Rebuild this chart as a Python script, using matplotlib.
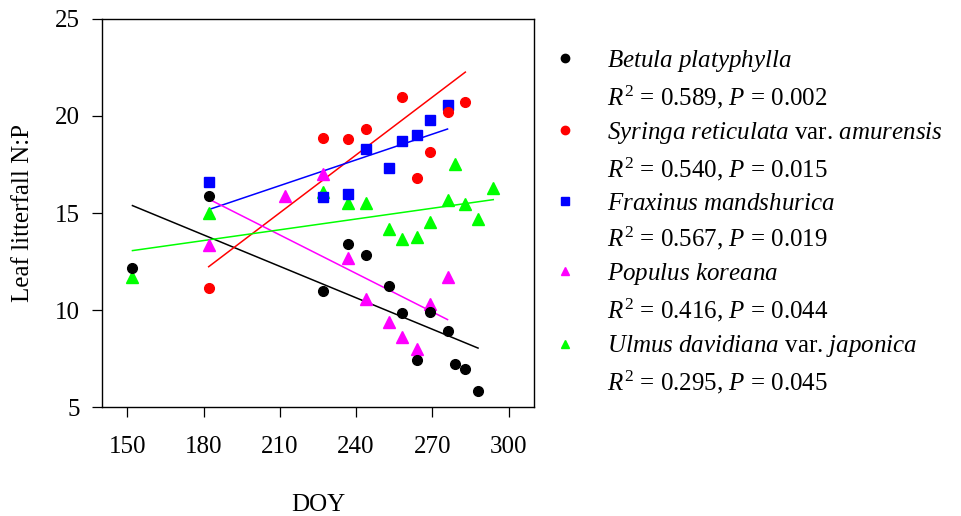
import numpy as np
import matplotlib
matplotlib.use("Agg")
import matplotlib.pyplot as plt
from matplotlib.lines import Line2D

plt.rcParams['font.family'] = ['Liberation Serif', 'DejaVu Serif']
plt.rcParams['mathtext.fontset'] = 'custom'
plt.rcParams['mathtext.rm'] = 'Liberation Serif'
plt.rcParams['mathtext.it'] = 'Liberation Serif:italic'

# data (DOY vs leaf litterfall N:P)
betula_doy = [152, 182, 227, 237, 244, 253, 258, 264, 269, 276, 279, 283, 288]
betula_np = [12.15, 15.9, 11.0, 13.4, 12.85, 11.25, 9.85, 7.4, 9.9, 8.9, 7.2, 6.98, 5.8]

syringa_doy = [182, 227, 237, 244, 258, 264, 269, 276, 283]
syringa_np = [11.15, 18.85, 18.8, 19.35, 21.0, 16.8, 18.15, 20.2, 20.7]

fraxinus_doy = [182, 227, 237, 244, 253, 258, 264, 269, 276]
fraxinus_np = [16.6, 15.85, 16.0, 18.3, 17.3, 18.7, 19.0, 19.8, 20.55]

populus_doy = [182, 212, 227, 237, 244, 253, 258, 264, 269, 276]
populus_np = [13.35, 15.9, 17.0, 12.7, 10.55, 9.4, 8.6, 8.0, 10.3, 11.7]

ulmus_doy = [152, 182, 227, 237, 244, 253, 258, 264, 269, 276, 279, 283, 288, 294]
ulmus_np = [11.7, 15.0, 16.1, 15.5, 15.5, 14.15, 13.65, 13.75, 14.55, 15.65, 17.55, 15.45, 14.7, 16.3]

# regression lines (slope, intercept)
slopes = [-0.0540, 0.0993, 0.0442, -0.0661, 0.0185]
intercepts = [23.59, -5.84, 7.13, 27.75, 10.25]

names = [r'$\it{Betula\ platyphylla}$',
         r'$\it{Syringa\ reticulata}$ var. $\it{amurensis}$',
         r'$\it{Fraxinus\ mandshurica}$',
         r'$\it{Populus\ koreana}$',
         r'$\it{Ulmus\ davidiana}$ var. $\it{japonica}$']
stats = [r'$R^2$ = 0.589, $P$ = 0.002',
         r'$R^2$ = 0.540, $P$ = 0.015',
         r'$R^2$ = 0.567, $P$ = 0.019',
         r'$R^2$ = 0.416, $P$ = 0.044',
         r'$R^2$ = 0.295, $P$ = 0.045']

colors = ['black', '#ff0000', '#0000ff', '#ff00ff', '#00ff00']
markers = ['o', 'o', 's', '^', '^']
sizes = [7, 7, 7, 8, 8]

xs = [betula_doy, syringa_doy, fraxinus_doy, populus_doy, ulmus_doy]
ys = [betula_np, syringa_np, fraxinus_np, populus_np, ulmus_np]

fig = plt.figure(figsize=(9.61, 5.16), dpi=100)
ax = fig.add_axes([0.1061, 0.2112, 0.4495, 0.752])

# fitted lines underneath the points
for i in range(5):
    x = np.array(xs[i])
    lx = np.array([x.min(), x.max()])
    ax.plot(lx, slopes[i] * lx + intercepts[i], color=colors[i], lw=1.1, zorder=2)

for i in [4, 3, 2, 1, 0]:
    ax.plot(xs[i], ys[i], linestyle='none', marker=markers[i], ms=sizes[i],
            color=colors[i], mec=colors[i], zorder=3)

ax.set_xlim(140, 310)
ax.set_ylim(5, 25)
ax.set_xticks([150, 180, 210, 240, 270, 300])
ax.set_yticks([5, 10, 15, 20, 25])
ax.tick_params(direction='out', length=7, width=0.9, labelsize=18, pad=9)
ax.tick_params(axis='x', pad=14)
for s in ax.spines.values():
    s.set_linewidth(1.0)

ax.set_xlabel('DOY', fontsize=18, labelpad=26)
ax.set_ylabel('Leaf litterfall N:P', fontsize=18, labelpad=15)

handles = []
labels = []
for i in range(5):
    handles.append(Line2D([], [], linestyle='none', marker=markers[i], ms=6,
                          color=colors[i]))
    labels.append(names[i])
    handles.append(Line2D([], [], linestyle='none'))
    labels.append(stats[i])

fig.legend(handles, labels, loc='upper left', bbox_to_anchor=(0.575, 0.907),
           frameon=False, fontsize=18, handlelength=1.0, handletextpad=1.18,
           labelspacing=0.376, borderpad=0, borderaxespad=0)

fig.savefig('out.png', dpi=100)
